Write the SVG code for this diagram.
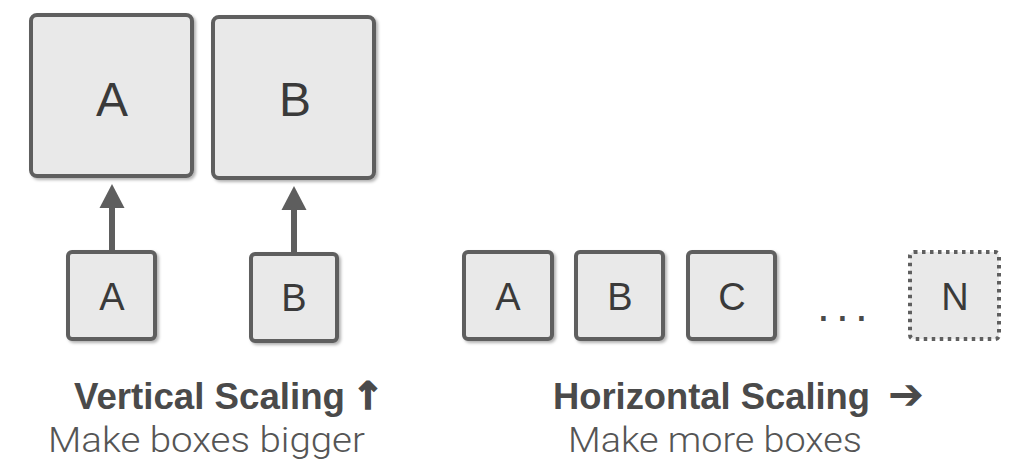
<svg xmlns="http://www.w3.org/2000/svg" width="1024" height="469" viewBox="0 0 1024 469">
  <defs>
    <filter id="sh" x="-10%" y="-10%" width="125%" height="125%">
      <feDropShadow dx="2" dy="2" stdDeviation="1.5" flood-color="#000" flood-opacity="0.3"/>
    </filter>
  </defs>
  <style>
    .box { fill: #e9e9e9; stroke: #5f5f5f; stroke-width: 4; filter: url(#sh); }
    .dbox { fill: #e9e9e9; stroke: #5f5f5f; stroke-width: 4; stroke-dasharray: 3.5 4.5; }
    .lbl { font-family: "Liberation Sans", Arial, sans-serif; fill: #3a3a3a; text-anchor: middle; }
    .big { font-size: 48px; }
    .sm { font-size: 38px; }
    .title { font-family: "Liberation Sans", Arial, sans-serif; font-weight: bold; font-size: 36px; fill: #4a4a4a; }
    .sub { font-family: Roboto, "Liberation Sans", Arial, sans-serif; font-weight: 300; font-size: 35px; fill: #555555; }
    .conn { stroke: #5e5e5e; stroke-width: 6; fill: none; }
    .head { fill: #5e5e5e; }
  </style>

  <g id="bigA">
    <rect class="box" x="31" y="15" width="161" height="161" rx="6"/>
    <text class="lbl big" x="112" y="116">A</text>
  </g>
  <g id="bigB">
    <rect class="box" x="213" y="17" width="161" height="161" rx="6"/>
    <text class="lbl big" x="295" y="116">B</text>
  </g>
  <g id="smallA">
    <rect class="box" x="68" y="252" width="87" height="87" rx="4"/>
    <text class="lbl sm" x="112" y="310">A</text>
  </g>
  <g id="smallB">
    <rect class="box" x="251" y="254" width="86" height="87" rx="4"/>
    <text class="lbl sm" x="294" y="311">B</text>
  </g>

  <g id="hA">
    <rect class="box" x="464" y="252" width="88" height="87" rx="4"/>
    <text class="lbl sm" x="508" y="310">A</text>
  </g>
  <g id="hB">
    <rect class="box" x="576" y="252" width="87" height="87" rx="4"/>
    <text class="lbl sm" x="620" y="310">B</text>
  </g>
  <g id="hC">
    <rect class="box" x="688" y="252" width="87" height="87" rx="4"/>
    <text class="lbl sm" x="732" y="310">C</text>
  </g>
  <g id="ellipsis">
    <text x="817" y="321" style="font-family:'Liberation Sans',Arial,sans-serif;font-size:46px;letter-spacing:6.2px;fill:#4a4a4a">...</text>
  </g>
  <g id="hN">
    <rect class="dbox" x="910" y="252" width="89" height="87" rx="4"/>
    <text class="lbl sm" x="955" y="310">N</text>
  </g>

  <g id="connectors">
    <line x1="112" y1="250" x2="112" y2="205" class="conn"/>
    <path class="head" d="M99.5,208 L112,184 L124.5,208 z"/>
    <line x1="294" y1="252" x2="294" y2="207" class="conn"/>
    <path class="head" d="M281.5,210 L294,186 L306.5,210 z"/>
  </g>

  <g id="captions">
    <text class="title" y="409"><tspan x="74" textLength="271" lengthAdjust="spacingAndGlyphs">Vertical Scaling</tspan><tspan x="352" style="font-family:'DejaVu Sans',sans-serif;font-weight:bold;font-size:38px;stroke:#4a4a4a;stroke-width:1.5px">↑</tspan></text>
    <text class="sub" x="48" y="452" textLength="317" lengthAdjust="spacingAndGlyphs">Make boxes bigger</text>
    <text class="title" y="409"><tspan x="553" textLength="317" lengthAdjust="spacingAndGlyphs">Horizontal Scaling</tspan><tspan x="888" style="font-family:'DejaVu Sans',sans-serif;font-weight:bold;font-size:43px">➔</tspan></text>
    <text class="sub" x="568" y="452" textLength="294" lengthAdjust="spacingAndGlyphs">Make more boxes</text>
  </g>
</svg>
